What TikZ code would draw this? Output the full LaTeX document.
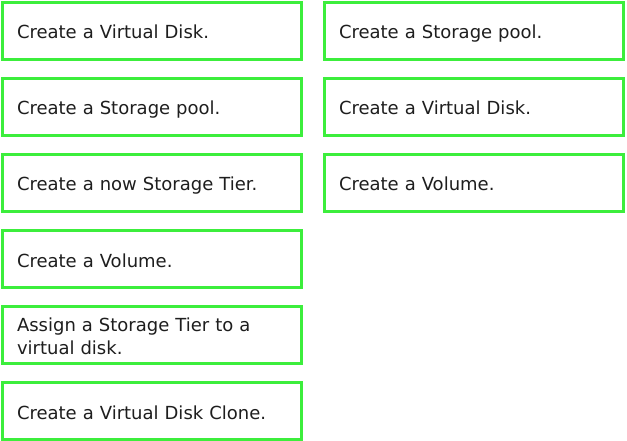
\documentclass[tikz,border=0pt]{standalone}
\usepackage{fontspec}
\setmainfont{DejaVu Sans}
\usetikzlibrary{positioning}

\definecolor{boxgreen}{RGB}{60,238,60}
\definecolor{boxtext}{RGB}{30,30,30}

\begin{document}
\begin{tikzpicture}[x=1pt, y=1pt,
    node distance=19pt and 23pt,
    task/.style={draw=boxgreen, line width=2.6pt, fill=white, outer sep=0pt,
        minimum width=299pt, minimum height=57pt, text width=270pt,
        inner xsep=14pt, align=left, text=boxtext,
        font=\fontsize{18}{23}\selectfont,
        execute at begin node={\rule{0pt}{21pt}},
        execute at end node={\rule[-5pt]{0pt}{5pt}}}]
    % --- Rahmen ---
    \useasboundingbox (0,0) rectangle (627,-441);

    % --- Linke Spalte ---
    \node[task, anchor=north west] (l1) at (2.5,-2.5) {Create a Virtual Disk.};
    \node[task, below=of l1] (l2) {Create a Storage pool.};
    \node[task, below=of l2] (l3) {Create a now Storage Tier.};
    \node[task, below=of l3] (l4) {Create a Volume.};
    \node[task, below=of l4] (l5) {Assign a Storage Tier to a\\virtual disk.};
    \node[task, below=of l5] (l6) {Create a Virtual Disk Clone.};

    % --- Rechte Spalte ---
    \node[task, right=of l1] (r1) {Create a Storage pool.};
    \node[task, below=of r1] (r2) {Create a Virtual Disk.};
    \node[task, below=of r2] (r3) {Create a Volume.};
\end{tikzpicture}
\end{document}
